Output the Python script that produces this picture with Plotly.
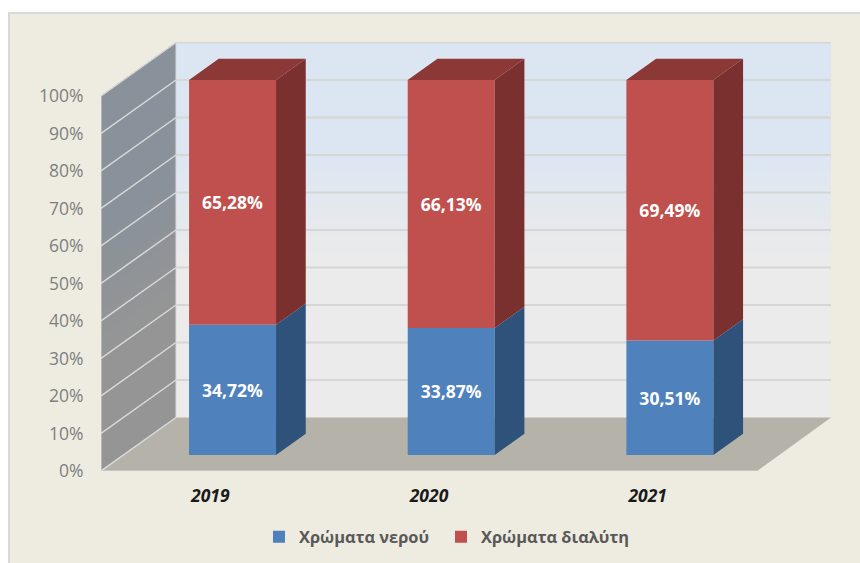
import plotly.graph_objects as go

# ---- data ----
years = ["2019", "2020", "2021"]
water_colours = [34.72, 33.87, 30.51]
solvent_colours = [65.28, 66.13, 69.49]
water_name = "Χρώματα νερού"
solvent_name = "Χρώματα διαλύτη"
y_ticks = [0, 10, 20, 30, 40, 50, 60, 70, 80, 90, 100]

# ---- 3D look: depths in axis units ----
W, H = 860, 563
L, R, T, B = 101, 831, 42, 471       # plot rectangle in px
X_UNIT = 218.67                      # px per category
Y_UNIT = 3.75                        # px per percent
X_MIN = -0.5
X_MAX = X_MIN + (R - L) / X_UNIT
Y_MAX = (B - T) / Y_UNIT
WALL_DX = 75 / X_UNIT
WALL_DY = 53.5 / Y_UNIT
BAR_WIDTH = 87 / X_UNIT
BAR_DX = 29.7 / X_UNIT
BAR_DY = 21.3 / Y_UNIT
OFF_DX = 22.2 / X_UNIT
OFF_DY = 16 / Y_UNIT


def lerp(c1, c2, t):
    return "rgb(%d,%d,%d)" % tuple(round(a + (b - a) * t) for a, b in zip(c1, c2))


def poly(points):
    return "M" + " L".join(f"{x:.5f},{y:.5f}" for x, y in points) + " Z"


shapes = []
# chart panel
shapes.append(dict(type="rect", xref="paper", yref="paper",
                   x0=(9 - L) / (R - L), x1=(900 - L) / (R - L),
                   y0=(B - 600) / (B - T), y1=(B - 13) / (B - T),
                   fillcolor="#EEECE1", line=dict(color="#D9D9D9", width=2), layer="below"))

back_x0 = X_MIN + WALL_DX
front_x1 = X_MIN + 3
# back wall and side wall gradients, painted bottom colour first, each step overlapping up to the top
STEPS = 50
wall_top = 100 + WALL_DY
for i in range(STEPS):
    lo = 100 * i / STEPS
    t_back = min(1, max(0, (lo - 40) / 30))
    t_side = min(1, max(0, (lo - 30) / 35))
    shapes.append(dict(type="path", xref="x", yref="y", layer="below", line=dict(width=0),
                       path=poly([(back_x0, lo + WALL_DY), (X_MAX, lo + WALL_DY), (X_MAX, wall_top), (back_x0, wall_top)]),
                       fillcolor=lerp((235, 235, 235), (220, 230, 242), t_back)))
    shapes.append(dict(type="path", xref="x", yref="y", layer="below", line=dict(width=0),
                       path=poly([(X_MIN, lo), (back_x0, lo + WALL_DY), (back_x0, wall_top), (X_MIN, 100)]),
                       fillcolor=lerp((149, 149, 149), (137, 145, 155), t_side)))
# floor
shapes.append(dict(type="path", xref="x", yref="y", layer="below", line=dict(width=0),
                   path=poly([(X_MIN, 0), (front_x1, 0), (X_MAX, WALL_DY), (back_x0, WALL_DY)]),
                   fillcolor="#B5B2A9"))
# grid lines
for v in y_ticks:
    if v > 0:
        shapes.append(dict(type="line", xref="x", yref="y", layer="below",
                           x0=back_x0, x1=X_MAX, y0=v + WALL_DY, y1=v + WALL_DY,
                           line=dict(color="#D6D6D6", width=1.8)))
    shapes.append(dict(type="line", xref="x", yref="y", layer="below",
                       x0=X_MIN, x1=back_x0, y0=v, y1=v + WALL_DY,
                       line=dict(color="#D9D9D9", width=1.5)))
shapes.append(dict(type="line", xref="x", yref="y", layer="below",
                   x0=back_x0, x1=back_x0, y0=WALL_DY, y1=wall_top, line=dict(color="#D9D9D9", width=1)))
shapes.append(dict(type="line", xref="x", yref="y", layer="below",
                   x0=X_MIN, x1=X_MIN, y0=0, y1=100, line=dict(color="#D9D9D9", width=1)))
shapes.append(dict(type="line", xref="x", yref="y", layer="below",
                   x0=X_MIN, x1=front_x1, y0=0, y1=0, line=dict(color="#D9D9D9", width=1)))

fig = go.Figure()
xs = list(range(len(years)))
bases_water = [OFF_DY] * len(xs)
bases_solvent = [OFF_DY + v for v in water_colours]


def fmt(v):
    return f"{v:.2f}%".replace(".", ",")


def add_series(name, values, bases, color, side_color, legend_id):
    fig.add_trace(go.Bar(
        name=name, x=[i + OFF_DX for i in xs], y=values, base=bases, width=BAR_WIDTH,
        legend=legend_id,
        marker=dict(color=color, line=dict(width=0)),
        text=[fmt(v) for v in values], textposition="inside", insidetextanchor="middle",
        textangle=0, constraintext="none",
        textfont=dict(family="Open Sans", size=17.5, color="#FFFFFF", weight=700),
        hovertemplate="%{text}<extra></extra>",
    ))
    px, py = [], []
    for i, v, b in zip(xs, values, bases):
        xr = i + OFF_DX + BAR_WIDTH / 2
        px += [xr, xr + BAR_DX, xr + BAR_DX, xr, xr, None]
        py += [b, b + BAR_DY, b + v + BAR_DY, b + v, b, None]
    fig.add_trace(go.Scatter(x=px, y=py, mode="lines", line=dict(width=0), fill="toself",
                             fillcolor=side_color, showlegend=False, hoverinfo="skip"))


add_series(water_name, water_colours, bases_water, "#4F81BD", "#2F527B", "legend")
add_series(solvent_name, solvent_colours, bases_solvent, "#C0504D", "#7A302E", "legend2")

# top faces
tx, ty = [], []
for i, w, s in zip(xs, water_colours, solvent_colours):
    xl = i + OFF_DX - BAR_WIDTH / 2
    xr = xl + BAR_WIDTH
    top = OFF_DY + w + s
    tx += [xl, xr, xr + BAR_DX, xl + BAR_DX, xl, None]
    ty += [top, top, top + BAR_DY, top + BAR_DY, top, None]
fig.add_trace(go.Scatter(x=tx, y=ty, mode="lines", line=dict(width=0), fill="toself",
                         fillcolor="#8C3836", showlegend=False, hoverinfo="skip"))


def legend_at(text_left_px):
    return dict(orientation="h", xref="container", yref="container",
                x=(text_left_px - 40) / W, xanchor="left",
                y=(H - 537) / H, yanchor="middle",
                bgcolor="rgba(0,0,0,0)",
                font=dict(family="Open Sans", size=16.4, color="#595959", weight=700))


fig.update_layout(
    width=W, height=H,
    autosize=False,
    margin=dict(l=L, r=W - R, t=T, b=H - B, pad=0, autoexpand=False),
    paper_bgcolor="#FFFFFF",
    plot_bgcolor="rgba(0,0,0,0)",
    barmode="overlay",
    shapes=shapes,
    showlegend=True,
    legend=legend_at(299),
    legend2=legend_at(481),
    xaxis=dict(range=[X_MIN, X_MAX], tickmode="array", tickvals=xs, ticktext=years,
               showgrid=False, zeroline=False, showline=False,
               ticks="outside", ticklen=9, tickcolor="rgba(0,0,0,0)",
               tickfont=dict(family="Open Sans", size=17.5, color="#1A1A1A", weight=700, style="italic")),
    yaxis=dict(range=[0, Y_MAX], tickmode="array", tickvals=y_ticks,
               ticktext=[f"{v}%" for v in y_ticks],
               showgrid=False, zeroline=False, showline=False,
               ticks="outside", ticklen=13, tickcolor="rgba(0,0,0,0)",
               tickfont=dict(family="Open Sans", size=17.5, color="#7F7F7F")),
)

fig.write_html("out.html", config=dict(displayModeBar=False),
               post_script="document.body.style.margin='0';document.documentElement.style.overflow='hidden';")
